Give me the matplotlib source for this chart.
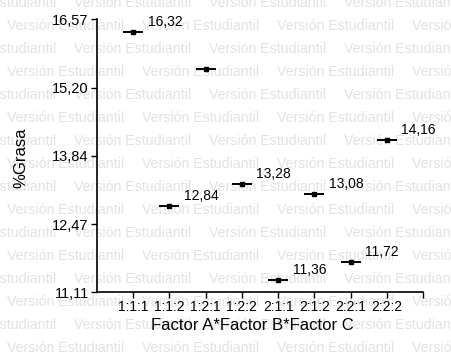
import numpy as np
import matplotlib
matplotlib.use("Agg")
import matplotlib.pyplot as plt

plt.rcParams['font.family'] = ['Liberation Sans', 'DejaVu Sans']

# medias de %Grasa por combinación de factores
combinaciones = ['1:1:1', '1:1:2', '1:2:1', '1:2:2', '2:1:1', '2:1:2', '2:2:1', '2:2:2']
medias = [16.32, 12.84, 15.57, 13.28, 11.36, 13.08, 11.72, 14.16]
etiquetas = ['16,32', '12,84', '', '13,28', '11,36', '13,08', '11,72', '14,16']
yticks = [11.11, 12.47, 13.84, 15.20, 16.57]

W, H = 452, 356
fig = plt.figure(figsize=(W / 100, H / 100), dpi=100)

# marca de agua de fondo
for k in range(16):
    yp = 3 + 23 * k
    x0 = 7 if k % 2 else 74
    for m in range(-1, 4):
        xp = x0 + 135 * m
        fig.text(xp / W, 1 - yp / H, 'Versión Estudiantil', fontsize=10.2,
                 color='#e2e2e2', ha='left', va='center', zorder=0)

ax = fig.add_axes([97 / W, 1 - 292 / H, (423 - 97) / W, (292 - 19) / H])
ax.set_zorder(1)
ax.patch.set_visible(False)

x = np.arange(len(combinaciones))
ax.plot(x, medias, ls='none', marker='_', ms=15, mew=1.4, color='black')
ax.plot(x, medias, ls='none', marker='s', ms=3.2, color='black')

for xi, yi, t in zip(x, medias, etiquetas):
    if t:
        ax.annotate(t, (xi, yi), xytext=(10.5, 6.5), textcoords='offset points',
                    ha='left', va='center', fontsize=10)

ax.set_xlim(-1, 8)
ax.set_ylim(11.11, 16.57)
ax.set_xticks(list(x) + [8])
ax.set_xticklabels(combinaciones + [''], fontsize=10)
ax.set_yticks(yticks)
ax.set_yticklabels([f'{v:.2f}'.replace('.', ',') for v in yticks], fontsize=10.5)
ax.tick_params(direction='out', length=4, width=1, pad=2)

for s in ['top', 'right']:
    ax.spines[s].set_visible(False)
for s in ['left', 'bottom']:
    ax.spines[s].set_linewidth(1.2)

ax.set_xlabel('Factor A*Factor B*Factor C', fontsize=12)
ax.set_ylabel('%Grasa', fontsize=12)
ax.xaxis.set_label_coords(0.478, -0.095)
ax.yaxis.set_label_coords(-0.21, 0.49)

fig.savefig('out.png', dpi=100)
